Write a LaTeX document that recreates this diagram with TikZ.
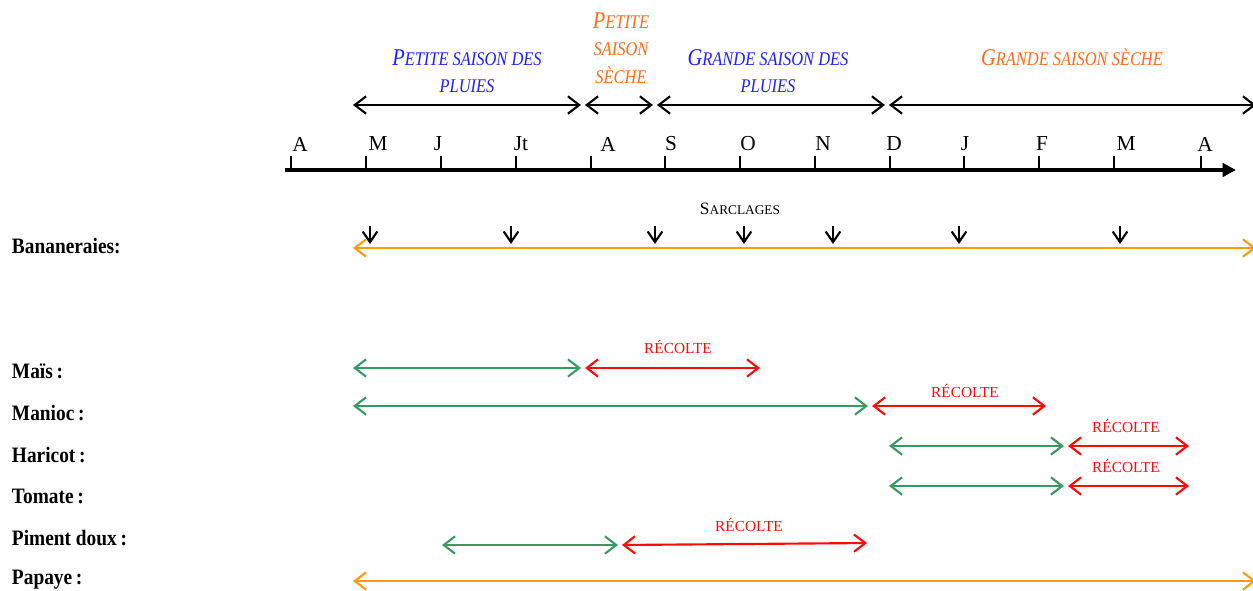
\documentclass[tikz,border=0pt]{standalone}
\usepackage{fontspec}
\setmainfont{Liberation Serif}
\newfontfamily\rowfont[FakeStretch=0.88]{Liberation Serif}
\newfontfamily\seasonfont[FakeStretch=0.85]{Liberation Serif}
\usetikzlibrary{arrows.meta}
\definecolor{RainBlue}{HTML}{1E1EFF}
\definecolor{DryOrange}{HTML}{FF6A1A}
\definecolor{PerennialAmber}{HTML}{FF9A0A}
\definecolor{GrowGreen}{HTML}{3A9A64}
\definecolor{HarvestRed}{HTML}{FF0A0A}
% faux small caps: first letter full size, rest smaller
\newcommand{\fauxsc}[3]{#2{\fontsize{#1}{#1}\selectfont #3}}
\tikzset{
  every node/.style={inner sep=0pt, outer sep=0pt},
  barb/.style={{Straight Barb[length=8.5pt,width=13pt]}-{Straight Barb[length=8.5pt,width=13pt]}, line width=1.6pt},
  season/.style={barb, draw=black},
  growspan/.style={barb, draw=GrowGreen},
  harvest/.style={barb, draw=HarvestRed},
  perennial/.style={barb, draw=PerennialAmber},
  weeding/.style={-{Straight Barb[length=8pt,width=11pt]}, draw=black, line width=1.6pt},
  timeaxis/.style={-{Triangle[length=10pt,width=10pt]}, draw=black, line width=2.8pt},
  tick/.style={draw=black, line width=0.9pt},
  month/.style={font=\fontsize{16}{18}\selectfont},
  seasonlabel/.style={align=center, font=\seasonfont\itshape\fontsize{18}{20.5}\selectfont},
  croplabel/.style={anchor=west, font=\rowfont\bfseries\fontsize{16.5}{18}\selectfont},
  harvestlabel/.style={text=HarvestRed, font=\fontsize{11.5}{13}\selectfont},
}
\begin{document}
\begin{tikzpicture}[x=0.75pt,y=-0.75pt]
  \useasboundingbox (0,0) rectangle (1253,590);
  % Time axis with months
  \coordinate (axisstart) at (285,170);
  \coordinate (axisend) at (1236,170);
  \draw[timeaxis] (axisstart) -- (axisend);
  \foreach \x/\m/\lx [count=\i] in {291/A/300, 366/M/378, 441/J/438, 516/Jt/521, 591/A/608,
      665/S/671, 740/O/748, 815/N/823, 890/D/894, 964/J/965, 1039/F/1042, 1114/M/1126, 1201/A/1205} {
    \coordinate (t\i) at (\x,170);
    \draw[tick] (t\i) -- ++(0,-14);
    \node[month] (m\i) at (\lx,144) {\m};
  }
  % Seasons
  \coordinate (psp1) at (353,105);  \coordinate (psp2) at (581,105);
  \coordinate (pss1) at (585,105);  \coordinate (pss2) at (653,105);
  \coordinate (gsp1) at (657,105);  \coordinate (gsp2) at (885,105);
  \coordinate (gss1) at (889,105);  \coordinate (gss2) at (1256,105);
  \draw[season] (psp1) -- (psp2);
  \draw[season] (pss1) -- (pss2);
  \draw[season] (gsp1) -- (gsp2);
  \draw[season] (gss1) -- (gss2);
  \node[seasonlabel, text=RainBlue] (pspl) at (467,71)
    {\fauxsc{14.5}{P}{ETITE SAISON DES}\\\fauxsc{14.5}{}{PLUIES}};
  \node[seasonlabel, text=DryOrange] (pssl) at (621,48)
    {\fauxsc{14.5}{P}{ETITE}\\\fauxsc{14.5}{}{SAISON}\\\fauxsc{14.5}{}{SÈCHE}};
  \node[seasonlabel, text=RainBlue] (gspl) at (768,71)
    {\fauxsc{14.5}{G}{RANDE SAISON DES}\\\fauxsc{14.5}{}{PLUIES}};
  \node[seasonlabel, text=DryOrange] (gssl) at (1072,57)
    {\fauxsc{14.5}{G}{RANDE SAISON SÈCHE}};
  % Bananeraies and weeding
  \node[croplabel] (banane) at (12,246) {Bananeraies:};
  \coordinate (ban1) at (353,248);  \coordinate (ban2) at (1256,248);
  \draw[perennial] (ban1) -- (ban2);
  \node[font=\fontsize{13}{15}\selectfont] (sarcl) at (740,209) {\fauxsc{10}{S}{ARCLAGES}};
  \foreach \x [count=\i] in {370,511,655,744,833,959,1120} {
    \coordinate (w\i) at (\x,226);
    \draw[weeding] (w\i) -- ++(0,18);
  }
  % Crops
  \node[croplabel] (mais) at (12,371) {Maïs\,:};
  \node[croplabel] (manioc) at (12,413) {Manioc\,:};
  \node[croplabel] (haricot) at (12,455) {Haricot\,:};
  \node[croplabel] (tomate) at (12,496) {Tomate\,:};
  \node[croplabel] (piment) at (12,538) {Piment doux\,:};
  \node[croplabel] (papaye) at (12,580) {Papaye\,:};
  % growth / harvest spans: y, green start, green end, red start, red end, label x, label y
  \foreach \y/\ga/\gb/\ra/\rb/\lx/\ly [count=\i] in {368/353/581/585/760/678/347,
      406/353/868/872/1046/965/391, 446/889/1064/1068/1189/1126/426,
      486/889/1064/1068/1189/1126/466} {
    \coordinate (g\i a) at (\ga,\y);  \coordinate (g\i b) at (\gb,\y);
    \coordinate (r\i a) at (\ra,\y);  \coordinate (r\i b) at (\rb,\y);
    \draw[growspan] (g\i a) -- (g\i b);
    \draw[harvest] (r\i a) -- (r\i b);
    \node[harvestlabel] (h\i) at (\lx,\ly) {RÉCOLTE};
  }
  \coordinate (g5a) at (442,545);  \coordinate (g5b) at (618,545);
  \coordinate (r5a) at (622,545);  \coordinate (r5b) at (867,543);
  \draw[growspan] (g5a) -- (g5b);
  \draw[harvest] (r5a) -- (r5b);
  \node[harvestlabel] (h5) at (749,525) {RÉCOLTE};
  \coordinate (pap1) at (353,581);  \coordinate (pap2) at (1256,581);
  \draw[perennial] (pap1) -- (pap2);
\end{tikzpicture}
\end{document}
